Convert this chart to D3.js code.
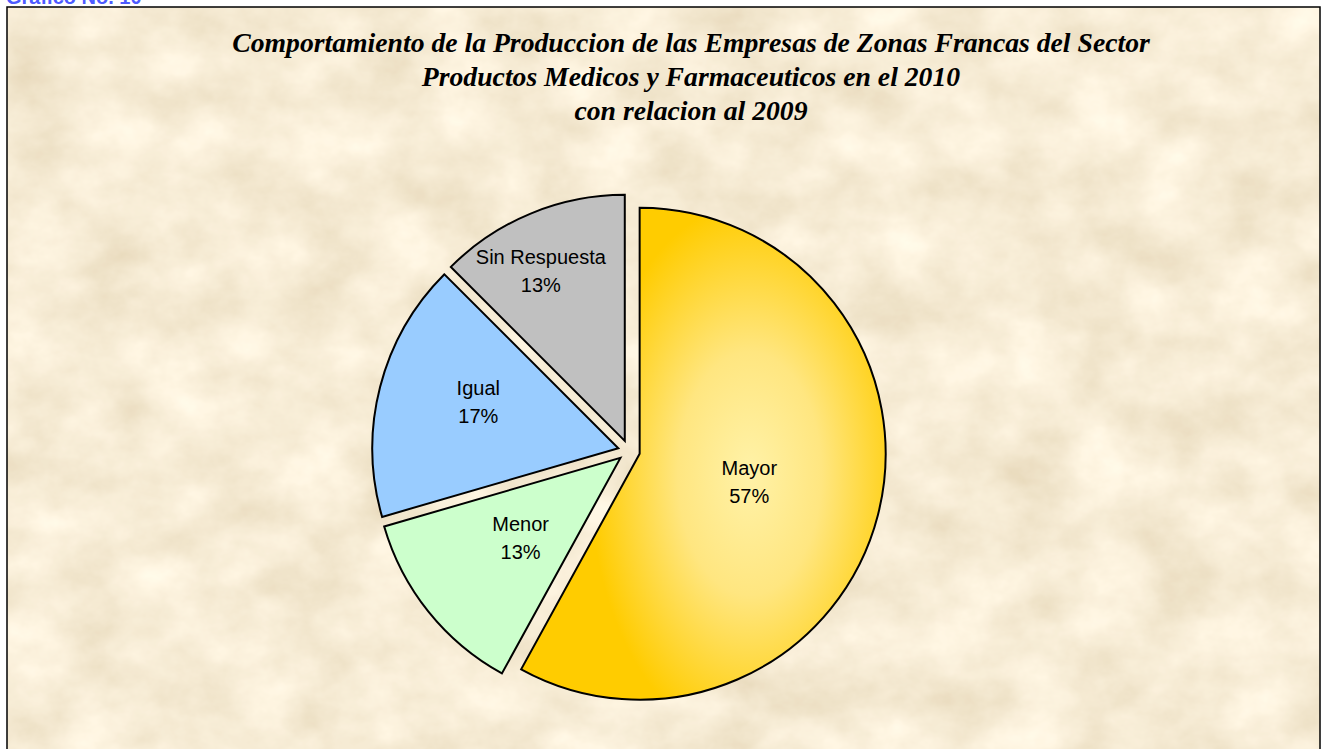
<!DOCTYPE html>
<html>
<head>
<meta charset="utf-8">
<script src="https://cdn.jsdelivr.net/npm/d3@7"></script>
<style>
  body { margin: 0; background: #fff; }
  svg { display: block; }
</style>
</head>
<body>
<div id="chart"></div>
<script>
// data
const categories = ["Mayor", "Menor", "Igual", "Sin Respuesta"];
// percentages printed on the slices
const percentLabels = [57, 13, 17, 13];
// slice sizes as drawn
const sliceValues = [58, 12.5, 17, 12.5];
const sliceColors = ["#FFCC00", "#CCFFCC", "#99CCFF", "#C0C0C0"];
const titleLines = [
  "Comportamiento de la Produccion de las Empresas de Zonas Francas del Sector",
  "Productos Medicos y Farmaceuticos en el 2010",
  "con relacion al 2009"
];
const caption = "Gráfico No. 10";

const width = 1323, height = 749;
const cx = 629, cy = 451, radius = 246, explode = 11;
// label placement: fraction of radius and angle nudge (degrees)
const labelPlace = {
  "Mayor": { dist: 0.46, shift: 0 },
  "Menor": { dist: 0.52, shift: 0 },
  "Igual": { dist: 0.60, shift: 4 },
  "Sin Respuesta": { dist: 0.77, shift: -3.8 }
};

const svg = d3.select("#chart").append("svg")
  .attr("width", width)
  .attr("height", height);

const defs = svg.append("defs");

// parchment texture
const filt = defs.append("filter")
  .attr("id", "parchment")
  .attr("x", 0).attr("y", 0).attr("width", "100%").attr("height", "100%");
filt.append("feTurbulence")
  .attr("type", "fractalNoise")
  .attr("baseFrequency", "0.014 0.018")
  .attr("numOctaves", 5)
  .attr("seed", 11)
  .attr("result", "noise");
filt.append("feColorMatrix")
  .attr("in", "noise")
  .attr("type", "matrix")
  .attr("values",
    "0 0 0 0.28 0.79 " +
    "0 0 0 0.32 0.68 " +
    "0 0 0 0.38 0.48 " +
    "0 0 0 0 1")
  .attr("result", "tint");
filt.append("feComposite").attr("in", "tint").attr("in2", "SourceGraphic").attr("operator", "in");

// gradient for the big slice, in the slice's own coordinates (taller than wide)
const grad = defs.append("radialGradient")
  .attr("id", "mayorGrad")
  .attr("gradientUnits", "userSpaceOnUse")
  .attr("cx", 0).attr("cy", 0).attr("r", 1)
  .attr("gradientTransform", "translate(110, 20) scale(160, 270)");
grad.append("stop").attr("offset", "0%").attr("stop-color", "#FFF2A8");
grad.append("stop").attr("offset", "45%").attr("stop-color", "#FFE680");
grad.append("stop").attr("offset", "100%").attr("stop-color", "#FFCC00");

// blue caption cut off above the frame
svg.append("text")
  .attr("x", 6).attr("y", 4)
  .attr("font-family", "Liberation Sans, Arial, sans-serif")
  .attr("font-weight", "bold")
  .attr("font-size", 20)
  .attr("fill", "#4D5BFF")
  .text(caption);

// chart area with frame
svg.append("rect")
  .attr("x", 7).attr("y", 7)
  .attr("width", 1313).attr("height", 760)
  .attr("fill", "#EEDCB4")
  .attr("filter", "url(#parchment)");
svg.append("rect")
  .attr("x", 7).attr("y", 7)
  .attr("width", 1313).attr("height", 760)
  .attr("fill", "none")
  .attr("stroke", "#000")
  .attr("stroke-width", 1.5);

// title
svg.append("text")
  .attr("text-anchor", "middle")
  .attr("font-family", "Liberation Serif, Times New Roman, serif")
  .attr("font-style", "italic")
  .attr("font-weight", "bold")
  .attr("font-size", 27.7)
  .attr("fill", "#000")
  .selectAll("tspan")
  .data(titleLines)
  .enter()
  .append("tspan")
  .attr("x", 691)
  .attr("y", (d, i) => 52 + i * 34)
  .text(d => d);

// pie
const data = categories.map((c, i) => ({
  name: c, value: sliceValues[i], pct: percentLabels[i], color: sliceColors[i]
}));
const pie = d3.pie().value(d => d.value).sort(null);
const arcs = pie(data);
const arc = d3.arc().innerRadius(0).outerRadius(radius);

const pieGroup = svg.append("g")
  .attr("transform", `translate(${cx}, ${cy})`);

const slices = pieGroup.selectAll("g.slice")
  .data(arcs)
  .enter()
  .append("g")
  .attr("class", "slice")
  .attr("transform", d => {
    const a = (d.startAngle + d.endAngle) / 2;
    return `translate(${explode * Math.sin(a)}, ${-explode * Math.cos(a)})`;
  });

slices.append("path")
  .attr("d", arc)
  .attr("fill", (d, i) => i === 0 ? "url(#mayorGrad)" : d.data.color)
  .attr("stroke", "#000")
  .attr("stroke-width", 2)
  .attr("stroke-linejoin", "miter");

const labels = slices.append("text")
  .attr("text-anchor", "middle")
  .attr("font-family", "Liberation Sans, Arial, sans-serif")
  .attr("font-size", 20)
  .attr("fill", "#000")
  .attr("transform", d => {
    const p = labelPlace[d.data.name];
    const a = (d.startAngle + d.endAngle) / 2 + p.shift * Math.PI / 180;
    const r = radius * p.dist;
    return `translate(${r * Math.sin(a)}, ${-r * Math.cos(a)})`;
  });
labels.append("tspan")
  .attr("x", 0).attr("y", -7)
  .text(d => d.data.name);
labels.append("tspan")
  .attr("x", 0).attr("y", 21)
  .text(d => d.data.pct + "%");
</script>
</body>
</html>
